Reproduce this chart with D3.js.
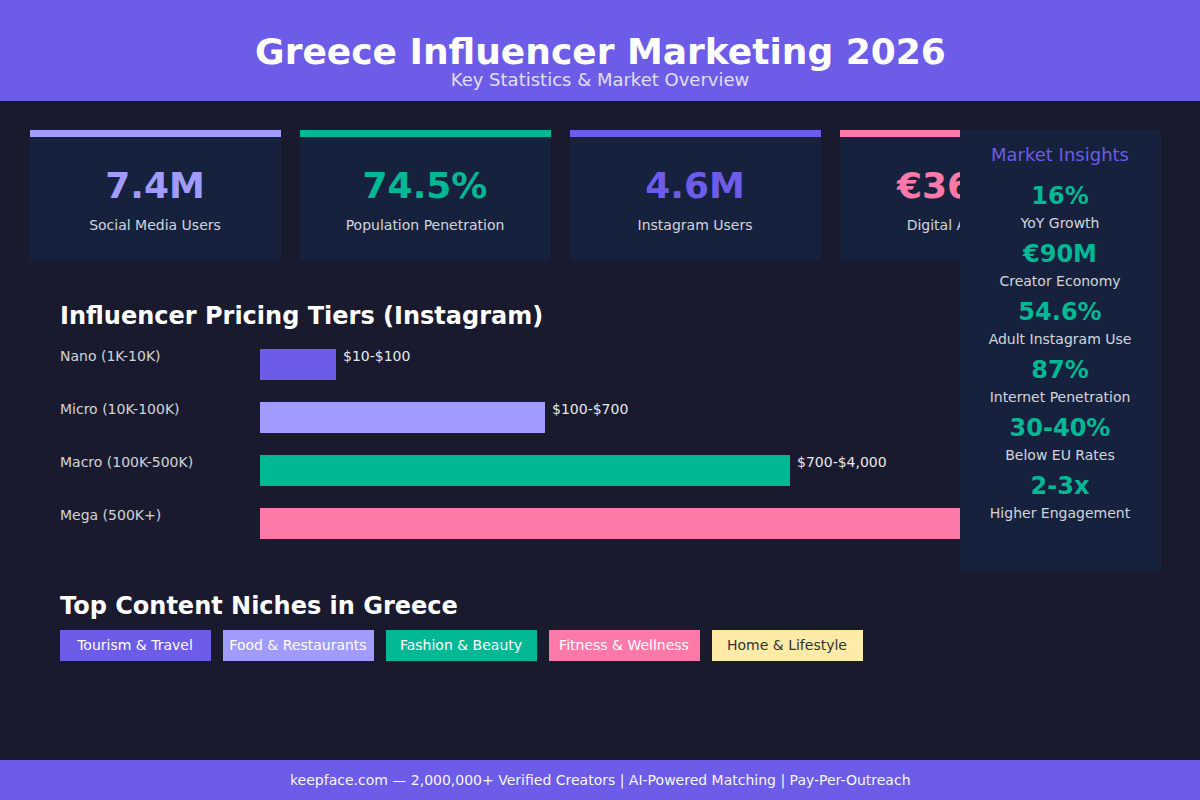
<!DOCTYPE html>
<html><head><meta charset="utf-8">
<script src="https://cdn.jsdelivr.net/npm/d3@7/dist/d3.min.js"></script>
<style>html,body{margin:0;padding:0;background:#1a1a2e}svg{display:block;font-family:"DejaVu Sans",sans-serif}</style>
</head><body><svg id="c" width="1200" height="800"></svg>
<script>
const statValues = ["7.4M","74.5%","4.6M","€360M"];
const statLabels = ["Social Media Users","Population Penetration","Instagram Users","Digital Ad Spend"];
const tierNames = ["Nano (1K-10K)","Micro (10K-100K)","Macro (100K-500K)","Mega (500K+)"];
const tierWidths = [10,37.5,69.74,95];
const tierPrices = ["$10-$100","$100-$700","$700-$4,000"];
const nicheNames = ["Tourism & Travel","Food & Restaurants","Fashion & Beauty","Fitness & Wellness","Home & Lifestyle"];
const insightValues = ["16%","€90M","54.6%","87%","30-40%","2-3x"];
const insightLabels = ["YoY Growth","Creator Economy","Adult Instagram Use","Internet Penetration","Below EU Rates","Higher Engagement"];

const PURPLE="#6c5ce7",LAV="#a29bfe",GREEN="#00b894",PINK="#fd79a8",YEL="#ffeaa7",CARD="#16213e";
const svg=d3.select("#c");
const txt=(g,x,y,s,size,fill,o={})=>g.append("text").attr("x",x).attr("y",y).text(s)
  .attr("font-size",size).attr("fill",fill).attr("text-anchor",o.a||"start")
  .attr("font-weight",o.w||"normal").attr("opacity",o.op==null?1:o.op);

svg.append("rect").attr("width",1200).attr("height",800).attr("fill","#1a1a2e");
svg.append("rect").attr("width",1200).attr("height",101).attr("fill",PURPLE);
txt(svg,600.5,64,"Greece Influencer Marketing 2026",36,"#fff",{a:"middle",w:"bold"});
txt(svg,600,86,"Key Statistics & Market Overview",18,"#fff",{a:"middle",op:.8});

// stat cards
const cardColors=[LAV,GREEN,PURPLE,PINK];
statValues.forEach((v,i)=>{
  const x=30+i*270,g=svg.append("g");
  g.append("rect").attr("x",x).attr("y",130).attr("width",251).attr("height",131).attr("fill",CARD);
  g.append("rect").attr("x",x).attr("y",130).attr("width",251).attr("height",7).attr("fill",cardColors[i]);
  txt(g,x+125,198,v,36,cardColors[i],{a:"middle",w:"bold"});
  txt(g,x+125,230,statLabels[i],14,"#fff",{a:"middle",op:.8});
});

// pricing tiers
txt(svg,60,323.5,"Influencer Pricing Tiers (Instagram)",24,"#fff",{w:"bold"});
const tierY=d3.scaleBand().domain(tierNames).range([349,561]);
const w=d3.scaleLinear().domain([0,100]).range([0,760]);
const tierColors=[PURPLE,LAV,GREEN,PINK];
tierNames.forEach((n,i)=>{
  const y=tierY(n);
  txt(svg,60,y+12,n,14,"#fff",{op:.8});
  svg.append("rect").attr("x",260).attr("y",y).attr("width",w(tierWidths[i])).attr("height",31).attr("fill",tierColors[i]);
  if(tierPrices[i]) txt(svg,260+w(tierWidths[i])+7,y+12,tierPrices[i],14,"#fff",{op:.9});
});

// niches
txt(svg,60,613.5,"Top Content Niches in Greece",24,"#fff",{w:"bold"});
const nicheColors=[PURPLE,LAV,GREEN,PINK,YEL];
nicheNames.forEach((n,i)=>{
  const x=60+i*163;
  svg.append("rect").attr("x",x).attr("y",630).attr("width",151).attr("height",31).attr("fill",nicheColors[i]);
  txt(svg,x+75,650,n,14,i==4?"#2d3436":"#fff",{a:"middle"});
});

// insights panel
svg.append("rect").attr("x",960).attr("y",130).attr("width",201).attr("height",441).attr("fill",CARD);
txt(svg,1060,161,"Market Insights",18,PURPLE,{a:"middle"});
insightValues.forEach((v,i)=>{
  const y=i*58;
  txt(svg,1060,204+y,v,24,GREEN,{a:"middle",w:"bold"});
  txt(svg,1060,228+y,insightLabels[i],14,"#fff",{a:"middle",op:.8});
});

// footer
svg.append("rect").attr("y",760).attr("width",1200).attr("height",40).attr("fill",PURPLE);
txt(svg,600.25,785,"keepface.com — 2,000,000+ Verified Creators | AI-Powered Matching | Pay-Per-Outreach",14,"#fff",{a:"middle",op:.95});
</script></body></html>
